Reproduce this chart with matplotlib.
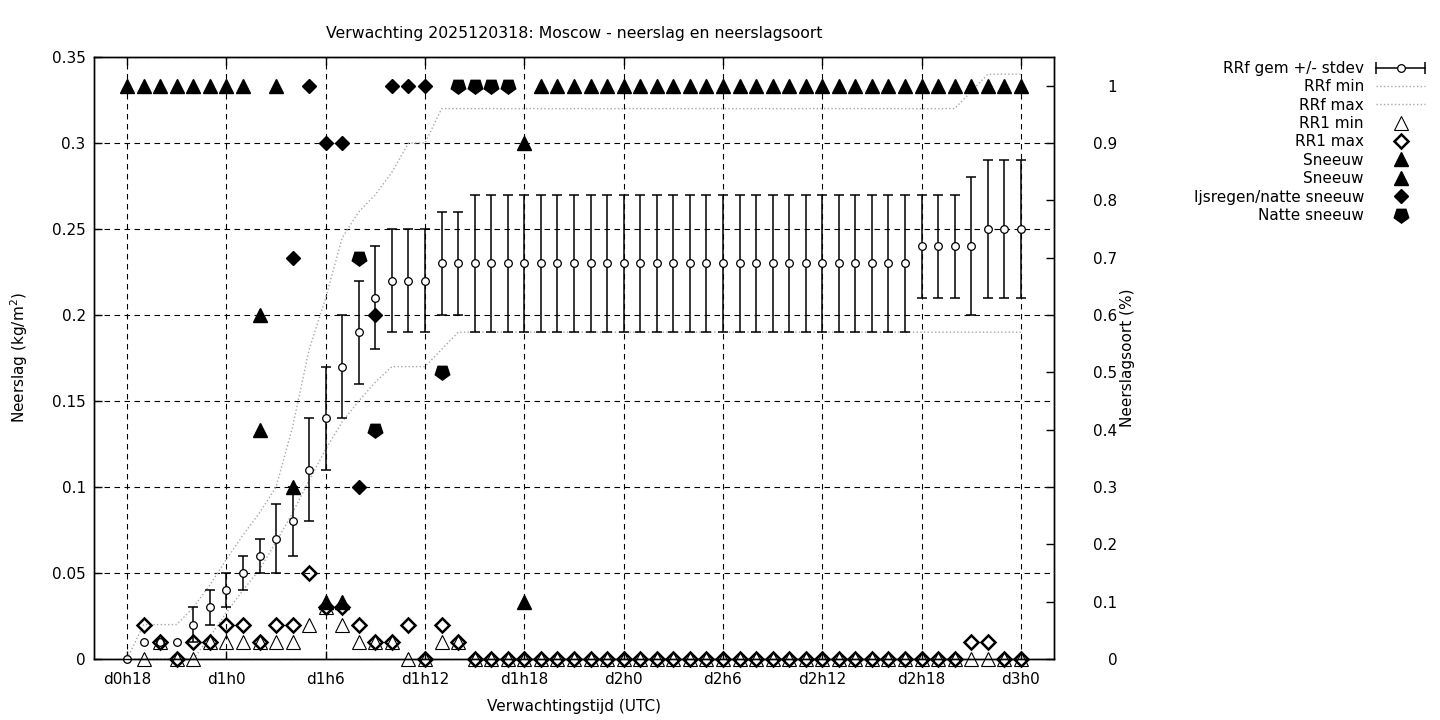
import numpy as np
import matplotlib
matplotlib.use('Agg')
import matplotlib.pyplot as plt
from matplotlib.lines import Line2D
from matplotlib.legend_handler import HandlerLine2D, HandlerTuple
from matplotlib.ticker import FuncFormatter

nan = np.nan

# forecast hour (hours after d0h0), one value per hour from d0h18 to d3h0
uren = np.arange(18, 73)
tick_uren = [18, 24, 30, 36, 42, 48, 54, 60, 66, 72]
tick_labels = ['d0h18', 'd1h0', 'd1h6', 'd1h12', 'd1h18',
               'd2h0', 'd2h6', 'd2h12', 'd2h18', 'd3h0']

# RRf mean with lower / upper end of the stdev bar (kg/m2)
rrf_gem = [0.00, 0.01, 0.01, 0.01, 0.02, 0.03,
           0.04, 0.05, 0.06, 0.07, 0.08, 0.11,
           0.14, 0.17, 0.19, 0.21, 0.22, 0.22,
           0.22, 0.23, 0.23, 0.23, 0.23, 0.23,
           0.23, 0.23, 0.23, 0.23, 0.23, 0.23,
           0.23, 0.23, 0.23, 0.23, 0.23, 0.23,
           0.23, 0.23, 0.23, 0.23, 0.23, 0.23,
           0.23, 0.23, 0.23, 0.23, 0.23, 0.23,
           0.24, 0.24, 0.24, 0.24, 0.25, 0.25,
           0.25]
rrf_laag = [nan, nan, nan, nan, 0.01, 0.02,
            0.03, 0.04, 0.05, 0.05, 0.06, 0.08,
            0.11, 0.14, 0.16, 0.18, 0.19, 0.19,
            0.19, 0.20, 0.20, 0.19, 0.19, 0.19,
            0.19, 0.19, 0.19, 0.19, 0.19, 0.19,
            0.19, 0.19, 0.19, 0.19, 0.19, 0.19,
            0.19, 0.19, 0.19, 0.19, 0.19, 0.19,
            0.19, 0.19, 0.19, 0.19, 0.19, 0.19,
            0.21, 0.21, 0.21, 0.20, 0.21, 0.21,
            0.21]
rrf_hoog = [nan, nan, nan, nan, 0.03, 0.04,
            0.05, 0.06, 0.07, 0.09, 0.10, 0.14,
            0.17, 0.20, 0.22, 0.24, 0.25, 0.25,
            0.25, 0.26, 0.26, 0.27, 0.27, 0.27,
            0.27, 0.27, 0.27, 0.27, 0.27, 0.27,
            0.27, 0.27, 0.27, 0.27, 0.27, 0.27,
            0.27, 0.27, 0.27, 0.27, 0.27, 0.27,
            0.27, 0.27, 0.27, 0.27, 0.27, 0.27,
            0.27, 0.27, 0.27, 0.28, 0.29, 0.29,
            0.29]

# RRf min / max envelope
rrf_min = [0.00, 0.00, 0.00, 0.00, 0.00, 0.013,
           0.027, 0.04, 0.052, 0.068, 0.085, 0.104,
           0.122, 0.138, 0.15, 0.161, 0.17, 0.17,
           0.17, 0.18, 0.19, 0.19, 0.19, 0.19,
           0.19, 0.19, 0.19, 0.19, 0.19, 0.19,
           0.19, 0.19, 0.19, 0.19, 0.19, 0.19,
           0.19, 0.19, 0.19, 0.19, 0.19, 0.19,
           0.19, 0.19, 0.19, 0.19, 0.19, 0.19,
           0.19, 0.19, 0.19, 0.19, 0.19, 0.19,
           0.19]
rrf_max = [0.00, 0.02, 0.02, 0.02, 0.03, 0.043,
           0.058, 0.072, 0.085, 0.10, 0.135, 0.18,
           0.21, 0.245, 0.26, 0.27, 0.283, 0.30,
           0.30, 0.32, 0.32, 0.32, 0.32, 0.32,
           0.32, 0.32, 0.32, 0.32, 0.32, 0.32,
           0.32, 0.32, 0.32, 0.32, 0.32, 0.32,
           0.32, 0.32, 0.32, 0.32, 0.32, 0.32,
           0.32, 0.32, 0.32, 0.32, 0.32, 0.32,
           0.32, 0.32, 0.32, 0.33, 0.34, 0.34,
           0.34]

# RR1 min / max
rr1_min = [nan, 0.00, 0.01, 0.00, 0.00, 0.01,
           0.01, 0.01, 0.01, 0.01, 0.01, 0.02,
           0.03, 0.02, 0.01, 0.01, 0.01, 0.00,
           0.00, 0.01, 0.01, 0.00, 0.00, 0.00,
           0.00, 0.00, 0.00, 0.00, 0.00, 0.00,
           0.00, 0.00, 0.00, 0.00, 0.00, 0.00,
           0.00, 0.00, 0.00, 0.00, 0.00, 0.00,
           0.00, 0.00, 0.00, 0.00, 0.00, 0.00,
           0.00, 0.00, 0.00, 0.00, 0.00, 0.00,
           0.00]
rr1_max = [nan, 0.02, 0.01, 0.00, 0.01, 0.01,
           0.02, 0.02, 0.01, 0.02, 0.02, 0.05,
           0.03, 0.03, 0.02, 0.01, 0.01, 0.02,
           0.00, 0.02, 0.01, 0.00, 0.00, 0.00,
           0.00, 0.00, 0.00, 0.00, 0.00, 0.00,
           0.00, 0.00, 0.00, 0.00, 0.00, 0.00,
           0.00, 0.00, 0.00, 0.00, 0.00, 0.00,
           0.00, 0.00, 0.00, 0.00, 0.00, 0.00,
           0.00, 0.00, 0.00, 0.01, 0.01, 0.00,
           0.00]

# precipitation type fractions (right axis)
sneeuw = [1.0, 1.0, 1.0, 1.0, 1.0, 1.0,
          1.0, 1.0, 0.6, 1.0, 0.3, nan,
          0.1, 0.1, nan, nan, nan, nan,
          nan, nan, nan, nan, nan, nan,
          0.9, 1.0, 1.0, 1.0, 1.0, 1.0,
          1.0, 1.0, 1.0, 1.0, 1.0, 1.0,
          1.0, 1.0, 1.0, 1.0, 1.0, 1.0,
          1.0, 1.0, 1.0, 1.0, 1.0, 1.0,
          1.0, 1.0, 1.0, 1.0, 1.0, 1.0,
          1.0]
sneeuw2_uur = [26, 42]
sneeuw2 = [0.4, 0.1]
ijsregen_uur = [28, 29, 30, 31, 32, 33, 34, 35, 36]
ijsregen = [0.7, 1.0, 0.9, 0.9, 0.3, 0.6, 1.0, 1.0, 1.0]
natte_uur = [32, 33, 37, 38, 39, 40, 41]
natte = [0.7, 0.4, 0.5, 1.0, 1.0, 1.0, 1.0]

plt.rcParams['font.family'] = 'DejaVu Sans'
plt.rcParams['font.size'] = 11

fig = plt.figure(figsize=(14.4, 7.2), dpi=100)
ax = fig.add_axes([94/1440, 1 - 659/720, 960/1440, 602/720])
ax2 = ax.twinx()

gem = np.array(rrf_gem)
laag = np.array(rrf_laag)
hoog = np.array(rrf_hoog)
ok = ~np.isnan(laag)

# error bars only where a stdev is given
eb = ax.errorbar(uren[ok], gem[ok], yerr=[gem[ok] - laag[ok], hoog[ok] - gem[ok]],
                 fmt='none', ecolor='k', elinewidth=1.1, capsize=3.3, capthick=1.1, zorder=3)
ax.plot(uren, gem, 'o', ms=5.5, mfc='white', mec='k', mew=0.9, zorder=4, clip_on=False)

l_min, = ax.plot(uren, rrf_min, color='#a8a8a8', ls=':', lw=1.0, zorder=2)
l_max, = ax.plot(uren, rrf_max, color='#a8a8a8', ls=':', lw=1.0, zorder=2)
# gnuplot does not clip points at the border
m_rmin, = ax.plot(uren, rr1_min, '^', ms=10, mfc='none', mec='k', mew=0.8, zorder=5,
                  clip_on=False)
m_rmax, = ax.plot(uren, rr1_max, 'D', ms=7, mfc='none', mec='k', mew=1.8, zorder=5,
                  clip_on=False)

pent = (5, 0, 180)
m_sn1, = ax2.plot(uren, sneeuw, '^', ms=10.5, color='k', ls='none')
m_sn2, = ax2.plot(sneeuw2_uur, sneeuw2, '^', ms=10.5, color='k', ls='none')
m_ijs, = ax2.plot(ijsregen_uur, ijsregen, 'D', ms=7, color='k', ls='none')
m_nat, = ax2.plot(natte_uur, natte, marker=pent, ms=11, color='k', ls='none')

ax.set_xlim(16, 74)
ax.set_ylim(0, 0.35)
ax2.set_ylim(0, 1.05)

ax.set_xticks(tick_uren)
ax.set_xticklabels(tick_labels)
ax.set_yticks([0, 0.05, 0.10, 0.15, 0.20, 0.25, 0.30, 0.35])
ax.yaxis.set_major_formatter(FuncFormatter(lambda v, p: '%g' % round(v, 2)))
ax2.set_yticks([0, 0.1, 0.2, 0.3, 0.4, 0.5, 0.6, 0.7, 0.8, 0.9, 1.0])
ax2.yaxis.set_major_formatter(FuncFormatter(lambda v, p: '%g' % round(v, 1)))

ax.tick_params(axis='both', direction='in', length=6, width=1)
ax.tick_params(axis='x', top=True, pad=9)
ax.tick_params(axis='y', pad=6)
ax2.tick_params(axis='y', direction='in', length=6, width=1, pad=45.5)
plt.setp(ax2.get_yticklabels(), ha='right')

ax.grid(True, color='k', ls=(0, (5, 4)), lw=0.8)
ax.set_axisbelow(True)
for a in (ax, ax2):
    for s in a.spines.values():
        s.set_linewidth(1)

ax.set_title('Verwachting 2025120318: Moscow - neerslag en neerslagsoort',
             fontsize=11.3, pad=14)
ax.set_xlabel('Verwachtingstijd (UTC)')
ax.xaxis.set_label_coords(0.5, -0.066)
ax.set_ylabel('Neerslag (kg/m$^2$)')
ax.yaxis.set_label_coords(-0.067, 0.5)
ax2.set_ylabel('Neerslagsoort (%)')
ax2.yaxis.set_label_coords(1.0685, 0.5)

# legend, gnuplot style: right aligned text, sample on the right
cap_h = Line2D([], [], color='k', lw=1.1, marker='|', ms=8, mew=1.1)
dot_h = Line2D([], [], ls='none', marker='o', ms=5.5, mfc='white', mec='k', mew=0.9)
handles = [(cap_h, dot_h), l_min, l_max, m_rmin, m_rmax, m_sn1, m_sn2, m_ijs, m_nat]
labels = ['RRf gem +/- stdev', 'RRf min', 'RRf max', 'RR1 min', 'RR1 max',
          'Sneeuw', 'Sneeuw', 'Ijsregen/natte sneeuw', 'Natte sneeuw']
leg = fig.legend(handles, labels, loc='upper right', bbox_to_anchor=(1425/1440, 1 - 61/720),
                 frameon=False, markerfirst=False, handlelength=3.2, handletextpad=0.8,
                 labelspacing=0.22, borderpad=0, borderaxespad=0, numpoints=1,
                 handler_map={cap_h: HandlerLine2D(numpoints=2, marker_pad=0),
                              tuple: HandlerTuple(ndivide=1, pad=0)})

fig.savefig('out.png', dpi=100)
